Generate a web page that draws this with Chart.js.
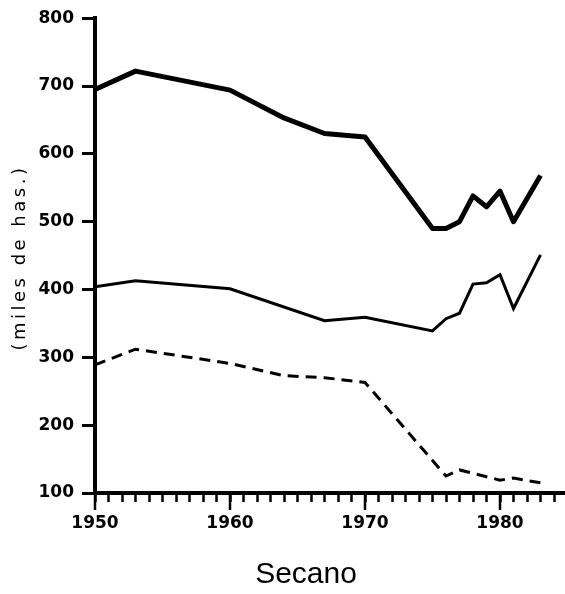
<!DOCTYPE html>
<html><head><meta charset="utf-8">
<script src="https://cdn.jsdelivr.net/npm/chart.js@4.4.0/dist/chart.umd.min.js"></script>
<style>html,body{margin:0;padding:0;background:#fff;}#wrap{width:565px;height:594px;}</style>
</head><body><div id="wrap"><canvas id="c" width="565" height="594"></canvas></div>
<script>
const yearsThick = [1950,1953,1960,1964,1967,1970,1975,1976,1977,1978,1979,1980,1981,1983];
const valuesThick = [695,722,694,653,630,625,490,490,500,538,522,545,500,568];
const yearsThin = [1950,1953,1960,1967,1970,1975,1976,1977,1978,1979,1980,1981,1983];
const valuesThin = [404,413,401,354,359,339,357,365,408,410,422,372,451];
const yearsDashed = [1950,1953,1960,1964,1967,1970,1976,1977,1980,1981,1983];
const valuesDashed = [289,312,291,273,270,263,125,134,119,122,115];
const xLabelYears = [1950,1960,1970,1980];
const yTitle = '(miles de has.)';
const xTitle = 'Secano';

function pts(xs, ys){ return xs.map((x,i)=>({x:x, y:ys[i]})); }

const decadeTicks = {
  id:'decadeTicks',
  afterDraw(chart){
    const ctx = chart.ctx, xs = chart.scales.x;
    ctx.save();
    ctx.strokeStyle = '#000'; ctx.lineWidth = 2.5;
    xLabelYears.forEach(v=>{
      const px = xs.getPixelForValue(v);
      ctx.beginPath(); ctx.moveTo(px, xs.top); ctx.lineTo(px, xs.top+17); ctx.stroke();
    });
    ctx.restore();
  }
};
const titles = {
  id:'titles',
  afterDraw(chart){
    const ctx = chart.ctx, a = chart.chartArea;
    ctx.save();
    ctx.fillStyle = '#000';
    ctx.translate(20, (a.top+a.bottom)/2 + 4);
    ctx.rotate(-Math.PI/2);
    ctx.font = '500 18px "DejaVu Sans"';
    ctx.letterSpacing = '3.5px';
    ctx.textAlign = 'center'; ctx.textBaseline = 'middle';
    ctx.fillText(yTitle, 2, 0);
    ctx.restore();
    ctx.save();
    ctx.fillStyle = '#000';
    ctx.font = '30px "Liberation Sans"';
    ctx.textAlign = 'center'; ctx.textBaseline = 'middle';
    ctx.fillText(xTitle, a.left + 211, a.bottom + 82);
    ctx.restore();
  }
};

const tickFont = {family:'"DejaVu Sans"', size:17, weight:'bold'};
new Chart(document.getElementById('c'), {
  type:'line',
  data:{datasets:[
    {label:'A', data:pts(yearsThick, valuesThick), borderColor:'#000', borderWidth:5, pointRadius:0, tension:0, fill:false, borderJoinStyle:'round'},
    {label:'B', data:pts(yearsThin, valuesThin), borderColor:'#000', borderWidth:3, pointRadius:0, tension:0, fill:false},
    {label:'C', data:pts(yearsDashed, valuesDashed), borderColor:'#000', borderWidth:3, borderDash:[11,7], pointRadius:0, tension:0, fill:false}
  ]},
  options:{
    responsive:false, animation:false, devicePixelRatio:1,
    layout:{padding:{left:0,right:0,top:16,bottom:0}},
    plugins:{legend:{display:false}, tooltip:{enabled:false}},
    scales:{
      x:{type:'linear', min:1950, max:1984.8,
        ticks:{stepSize:1, autoSkip:false, includeBounds:false, maxRotation:0, color:'#000', font:tickFont, padding:11,
          callback:(v)=> xLabelYears.includes(Math.round(v)) ? String(Math.round(v)) : ''},
        grid:{drawOnChartArea:false, drawTicks:true, tickLength:9, tickWidth:2.5, tickColor:'#000'},
        border:{display:true, width:4, color:'#000'},
        afterFit:(s)=>{ s.height = 101; }
      },
      y:{min:100, max:800,
        ticks:{stepSize:100, color:'#000', font:tickFont, padding:8},
        grid:{drawOnChartArea:false, drawTicks:true, tickLength:13, tickWidth:3, tickColor:'#000'},
        border:{display:true, width:4, color:'#000'},
        afterFit:(s)=>{ s.width = 95; }
      }
    }
  },
  plugins:[decadeTicks, titles]
});
</script></body></html>
